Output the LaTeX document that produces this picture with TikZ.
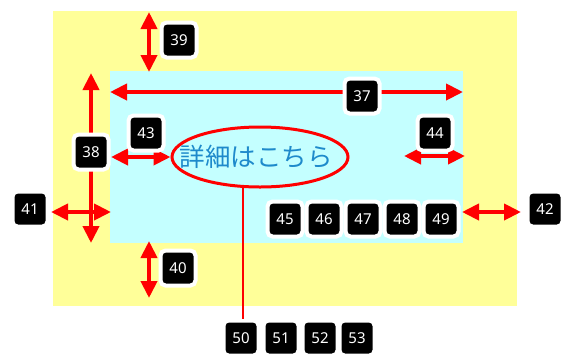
\documentclass[tikz,border=0pt]{standalone}
\usepackage{fontspec}
\setsansfont{Noto Sans}
\newfontfamily\jpfont{Noto Sans CJK JP}
\usepackage{xcolor}
\usetikzlibrary{arrows.meta, shapes.geometric}
\definecolor{pageyellow}{HTML}{FFFF99}
\definecolor{boxcyan}{HTML}{C4FFFF}
\definecolor{linkblue}{HTML}{1E8ACB}
\definecolor{markred}{HTML}{FF0000}
\tikzset{
  numbadge/.style={rectangle,rounded corners=5pt,fill=black,draw=white,line width=4pt,
    minimum size=35pt,inner sep=0pt,text=white,font=\sffamily\fontsize{15}{15}\selectfont},
  dimarrow/.style={{Triangle[length=17pt,width=16pt]}-{Triangle[length=17pt,width=16pt]},
    line width=4pt,markred},
  leader/.style={line width=2pt,markred},
  callout/.style={ellipse,draw=markred,line width=3pt,minimum width=176pt,minimum height=60pt,
    inner sep=0pt,text=linkblue,font=\jpfont\fontsize{25.5}{25.5}\selectfont},
}

\begin{document}
\begin{tikzpicture}[x=1pt,y=-1pt]
  \useasboundingbox (0,0) rectangle (573,360);
  % areas
  \fill[pageyellow] (53,11) rectangle (517,306);
  \fill[boxcyan] (110,71) rectangle (463,243);
  \node[callout] (nLink) at (260,157) {\makebox[0pt]{\hspace*{-8pt}詳細はこちら}};
  % arrow ends
  \coordinate (w37a) at (110,92);
  \coordinate (w37b) at (463,92);
  \coordinate (h38a) at (91,73);
  \coordinate (h38b) at (91,243);
  \coordinate (m39a) at (149,12);
  \coordinate (m39b) at (149,72);
  \coordinate (m40a) at (149,241);
  \coordinate (m40b) at (149,298);
  \coordinate (m41a) at (51,212);
  \coordinate (m41b) at (111,212);
  \coordinate (m42a) at (462,212);
  \coordinate (m42b) at (521,212);
  \coordinate (p43a) at (111,157);
  \coordinate (p44a) at (404,156);
  \coordinate (p44b) at (465,156);
  \draw[dimarrow] (w37a) -- (w37b);
  \draw[dimarrow] (h38a) -- (h38b);
  \draw[dimarrow] (m39a) -- (m39b);
  \draw[dimarrow] (m40a) -- (m40b);
  \draw[dimarrow] (m41a) -- (m41b);
  \draw[dimarrow] (m42a) -- (m42b);
  \draw[dimarrow] (p43a) -- (nLink.west);
  \draw[dimarrow] (p44a) -- (p44b);
  % badges
  \node[numbadge] (b37) at (362,96) {37};
  \node[numbadge] (b38) at (91,152) {38};
  \node[numbadge] (b39) at (179,40) {39};
  \node[numbadge] (b40) at (178,268) {40};
  \node[numbadge] (b41) at (30,209) {41};
  \node[numbadge] (b42) at (545,209) {42};
  \node[numbadge] (b43) at (146,133) {43};
  \node[numbadge] (b44) at (435,133) {44};
  \node[numbadge] (b45) at (285,219) {45};
  \node[numbadge] (b46) at (324,219) {46};
  \node[numbadge] (b47) at (363,219) {47};
  \node[numbadge] (b48) at (402,219) {48};
  \node[numbadge] (b49) at (441,219) {49};
  \node[numbadge] (b50) at (241,338) {50};
  \node[numbadge] (b51) at (281,338) {51};
  \node[numbadge] (b52) at (320,338) {52};
  \node[numbadge] (b53) at (357,338) {53};
  \coordinate (lnk50) at (243,186);
  \draw[leader] (lnk50) -- (lnk50 |- b50.north);
\end{tikzpicture}
\end{document}
